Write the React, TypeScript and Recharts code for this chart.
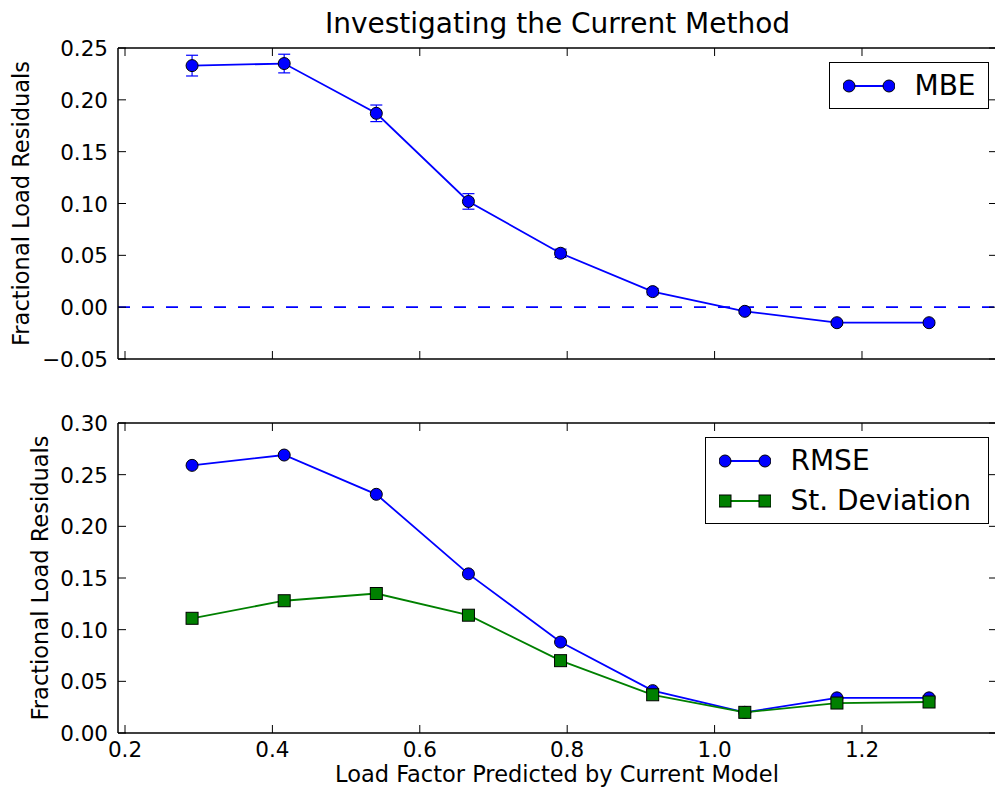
import React from "react";
import { ErrorBar, Label, Legend, Line, LineChart, ReferenceLine, XAxis, YAxis } from "recharts";

// values
const loadFactor = [0.291, 0.416, 0.541, 0.666, 0.791, 0.916, 1.041, 1.166, 1.291];
const mbe = [0.233, 0.235, 0.187, 0.102, 0.052, 0.015, -0.004, -0.015, -0.015];
const mbeErr = [0.01, 0.009, 0.008, 0.0075, 0.004, 0.003, 0.002, 0.002, 0.002];
const rmse = [0.259, 0.269, 0.231, 0.154, 0.088, 0.041, 0.02, 0.034, 0.034];
const stDev = [0.111, 0.128, 0.135, 0.114, 0.07, 0.037, 0.02, 0.029, 0.03];

const xTicks = [0.2, 0.4, 0.6, 0.8, 1.0, 1.2];
const topYTicks = [-0.05, 0, 0.05, 0.1, 0.15, 0.2, 0.25];
const bottomYTicks = [0, 0.05, 0.1, 0.15, 0.2, 0.25, 0.3];

const topData = loadFactor.map((x, i) => ({ x, mbe: mbe[i], err: mbeErr[i] }));
const bottomData = loadFactor.map((x, i) => ({ x, rmse: rmse[i], stDev: stDev[i] }));

const X_DOMAIN: [number, number] = [0.1905, 1.3832];
const FONT = "'DejaVu Sans', sans-serif";
const TICK_LEN = 8;
const BLUE = "#0000ff";
const GREEN = "#008000";
const frame = { stroke: "#000", strokeWidth: 1.5 };

const fmtY = (v: number) => v.toFixed(2).replace("-", "\u2212");
const fmtX = (v: number) => v.toFixed(1);

// matplotlib-classic style: ticks point into the axes box
function makeTick(side: "bottom" | "top" | "left" | "right", format?: (v: number) => string) {
  return (props: any) => {
    const { x, y, payload } = props;
    let line;
    let text = null;
    if (side === "bottom") {
      line = <line x1={x} y1={y} x2={x} y2={y - TICK_LEN} stroke="#000" strokeWidth={1} />;
      if (format)
        text = (
          <text x={x} y={y + 24} textAnchor="middle" fontSize={21.5} fontFamily={FONT} fill="#000">
            {format(payload.value)}
          </text>
        );
    } else if (side === "top") {
      line = <line x1={x} y1={y} x2={x} y2={y + TICK_LEN} stroke="#000" strokeWidth={1} />;
    } else if (side === "left") {
      line = <line x1={x} y1={y} x2={x + TICK_LEN} y2={y} stroke="#000" strokeWidth={1} />;
      if (format)
        text = (
          <text x={x - 10} y={y + 8} textAnchor="end" fontSize={21.5} fontFamily={FONT} fill="#000">
            {format(payload.value)}
          </text>
        );
    } else {
      line = <line x1={x} y1={y} x2={x - TICK_LEN} y2={y} stroke="#000" strokeWidth={1} />;
    }
    return (
      <g>
        {line}
        {text}
      </g>
    );
  };
}

function yLabel(baselineX: number) {
  return (props: any) => {
    const vb = props.viewBox;
    const cy = vb.y + vb.height / 2;
    return (
      <text
        x={baselineX}
        y={cy}
        transform={`rotate(-90 ${baselineX} ${cy})`}
        textAnchor="middle"
        fontSize={22.5}
        fontFamily={FONT}
        fill="#000"
      >
        Fractional Load Residuals
      </text>
    );
  };
}

function Marker({ type, cx, cy, color }: any) {
  if (type === "square")
    return <rect x={cx - 6} y={cy - 6} width={12} height={12} fill={color} stroke="#000" strokeWidth={1} />;
  return <circle cx={cx} cy={cy} r={6} fill={color} stroke="#000" strokeWidth={1} />;
}

function squareDot(props: any) {
  const { cx, cy, index } = props;
  return <Marker key={index} type="square" cx={cx} cy={cy} color={GREEN} />;
}

function legendBox(width: number) {
  return (props: any) => (
    <div
      style={{
        width,
        boxSizing: "border-box",
        border: "1.5px solid #000",
        background: "#fff",
        padding: "3px 0 2px 0",
        fontFamily: FONT,
      }}
    >
      {(props.payload || []).map((entry: any) => (
        <div key={entry.value} style={{ display: "flex", alignItems: "center", height: 40 }}>
          <svg width={52} height={14} style={{ marginLeft: 12.5, flex: "none" }}>
            <line x1={6} y1={7} x2={46} y2={7} stroke={entry.color} strokeWidth={1.8} />
            <Marker type={entry.type} cx={6} cy={7} color={entry.color} />
            <Marker type={entry.type} cx={46} cy={7} color={entry.color} />
          </svg>
          <span style={{ marginLeft: 20, fontSize: 28, lineHeight: "40px", color: "#000", whiteSpace: "nowrap" }}>
            {entry.value}
          </span>
        </div>
      ))}
    </div>
  );
}

function TopChart() {
  return (
    <LineChart width={1000} height={380} data={topData} margin={{ top: 47, right: 2, left: 0, bottom: 0 }}>
      <XAxis
        xAxisId="b"
        dataKey="x"
        type="number"
        domain={X_DOMAIN}
        allowDataOverflow
        ticks={xTicks}
        interval={0}
        height={21}
        tickSize={0}
        tickMargin={0}
        axisLine={frame}
        tickLine={false}
        tick={makeTick("bottom")}
      />
      <XAxis
        xAxisId="t"
        orientation="top"
        dataKey="x"
        type="number"
        domain={X_DOMAIN}
        allowDataOverflow
        ticks={xTicks}
        interval={0}
        height={1}
        tickSize={0}
        tickMargin={0}
        axisLine={frame}
        tickLine={false}
        tick={makeTick("top")}
      >
        <Label
          content={(p: any) => (
            <text
              x={p.viewBox.x + p.viewBox.width / 2}
              y={33}
              textAnchor="middle"
              fontSize={28}
              fontFamily={FONT}
              fill="#000"
            >
              Investigating the Current Method
            </text>
          )}
        />
      </XAxis>
      <YAxis
        yAxisId="l"
        type="number"
        domain={[-0.05, 0.25]}
        allowDataOverflow
        ticks={topYTicks}
        interval={0}
        width={118}
        tickSize={0}
        tickMargin={0}
        axisLine={frame}
        tickLine={false}
        tick={makeTick("left", fmtY)}
      >
        <Label content={yLabel(29)} />
      </YAxis>
      <YAxis
        yAxisId="r"
        orientation="right"
        type="number"
        domain={[-0.05, 0.25]}
        allowDataOverflow
        ticks={topYTicks}
        interval={0}
        width={1}
        tickSize={0}
        tickMargin={0}
        axisLine={frame}
        tickLine={false}
        tick={makeTick("right")}
      />
      <ReferenceLine xAxisId="b" yAxisId="l" y={0} stroke={BLUE} strokeWidth={1.8} strokeDasharray="12 12" />
      <Line
        xAxisId="b"
        yAxisId="l"
        dataKey="mbe"
        name="MBE"
        stroke={BLUE}
        strokeWidth={1.8}
        legendType="circle"
        dot={{ r: 6, fill: BLUE, stroke: "#000", strokeWidth: 1 }}
        activeDot={false}
        isAnimationActive={false}
      >
        <ErrorBar dataKey="err" direction="y" width={6} stroke={BLUE} strokeWidth={1.2} isAnimationActive={false} />
      </Line>
      <Legend
        layout="vertical"
        align="center"
        verticalAlign="middle"
        wrapperStyle={{ left: 829, top: 62, width: 160 }}
        content={legendBox(160)}
      />
    </LineChart>
  );
}

function BottomChart() {
  return (
    <LineChart width={1000} height={410} data={bottomData} margin={{ top: 42, right: 2, left: 0, bottom: 0 }}>
      <XAxis
        xAxisId="b"
        dataKey="x"
        type="number"
        domain={X_DOMAIN}
        allowDataOverflow
        ticks={xTicks}
        interval={0}
        height={57}
        tickSize={0}
        tickMargin={0}
        axisLine={frame}
        tickLine={false}
        tick={makeTick("bottom", fmtX)}
      >
        <Label
          content={(p: any) => (
            <text
              x={557}
              y={p.viewBox.y + 48.5}
              textAnchor="middle"
              fontSize={22.5}
              fontFamily={FONT}
              fill="#000"
            >
              Load Factor Predicted by Current Model
            </text>
          )}
        />
      </XAxis>
      <XAxis
        xAxisId="t"
        orientation="top"
        dataKey="x"
        type="number"
        domain={X_DOMAIN}
        allowDataOverflow
        ticks={xTicks}
        interval={0}
        height={1}
        tickSize={0}
        tickMargin={0}
        axisLine={frame}
        tickLine={false}
        tick={makeTick("top")}
      />
      <YAxis
        yAxisId="l"
        type="number"
        domain={[0, 0.3]}
        allowDataOverflow
        ticks={bottomYTicks}
        interval={0}
        width={118}
        tickSize={0}
        tickMargin={0}
        axisLine={frame}
        tickLine={false}
        tick={makeTick("left", fmtY)}
      >
        <Label content={yLabel(48)} />
      </YAxis>
      <YAxis
        yAxisId="r"
        orientation="right"
        type="number"
        domain={[0, 0.3]}
        allowDataOverflow
        ticks={bottomYTicks}
        interval={0}
        width={1}
        tickSize={0}
        tickMargin={0}
        axisLine={frame}
        tickLine={false}
        tick={makeTick("right")}
      />
      <Line
        xAxisId="b"
        yAxisId="l"
        dataKey="rmse"
        name="RMSE"
        stroke={BLUE}
        strokeWidth={1.8}
        legendType="circle"
        dot={{ r: 6, fill: BLUE, stroke: "#000", strokeWidth: 1 }}
        activeDot={false}
        isAnimationActive={false}
      />
      <Line
        xAxisId="b"
        yAxisId="l"
        dataKey="stDev"
        name="St. Deviation"
        stroke={GREEN}
        strokeWidth={1.8}
        legendType="square"
        dot={squareDot}
        activeDot={false}
        isAnimationActive={false}
      />
      <Legend
        layout="vertical"
        align="center"
        verticalAlign="middle"
        wrapperStyle={{ left: 705, top: 57, width: 284 }}
        content={legendBox(284)}
      />
    </LineChart>
  );
}

export default function App() {
  return (
    <div
      style={{
        position: "absolute",
        left: 0,
        top: 0,
        width: 995,
        height: 790,
        overflow: "hidden",
        background: "#fff",
        fontFamily: FONT,
      }}
    >
      <div style={{ position: "absolute", left: 0, top: 0 }}>
        <TopChart />
      </div>
      <div style={{ position: "absolute", left: 0, top: 380 }}>
        <BottomChart />
      </div>
    </div>
  );
}
